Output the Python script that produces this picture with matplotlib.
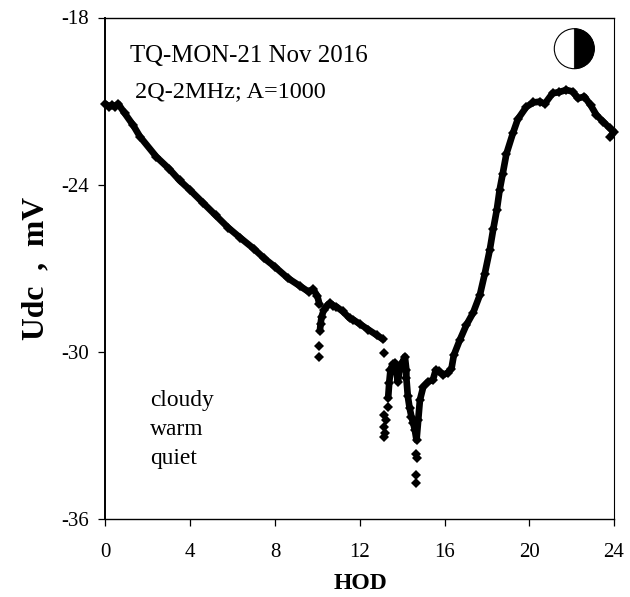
import matplotlib
matplotlib.use('Agg')
import numpy as np
import matplotlib.pyplot as plt
from matplotlib.patches import Circle, Wedge
from matplotlib.transforms import IdentityTransform

plt.rcParams['font.family'] = ['Liberation Serif', 'DejaVu Serif']
plt.rcParams['axes.unicode_minus'] = False

# connected runs of the record, nan = gap in the trace
hod = [0.0, 0.15, 0.3, 0.45, 0.6, 0.9, 1.3, 1.63, 2.4, 3.0, 3.5, 4.0, 4.6, 5.2, 5.8, 6.35, 7.0, 7.5, 8.0,
       8.6, 9.2, 9.6, 9.8, 10.0, 10.1, np.nan,
       10.12, 10.15, 10.2, 10.3, 10.45, 10.6, 10.75, 10.9, 11.2, 11.53, 11.7, 12.0, 12.4, 12.8, 13.1, np.nan,
       13.34, 13.39, 13.45, 13.55, 13.66, 13.72, 13.8, 13.89, 14.0, 14.13, 14.2, 14.2, 14.27, 14.35, 14.44,
       14.52, 14.6, 14.68, 14.76, 14.84, 15.0, 15.23, 15.45, 15.59, 15.75, 15.93, 16.15, 16.33, 16.44,
       16.72, 17.03, 17.35, 17.67, 17.9, 18.14, 18.3, 18.47, 18.6, 18.75, 18.92, 19.23, 19.46, 19.87,
       20.2, 20.5, 20.73, 21.1, 21.4, 21.75, 22.05, 22.3, 22.6, 22.9, 23.17, 23.5, 23.8, 24.0, 23.83]
udc = [-21.1, -21.2, -21.15, -21.2, -21.1, -21.43, -21.86, -22.28, -23.0, -23.43, -23.85, -24.2, -24.65, -25.1, -25.55, -25.9, -26.3, -26.65, -26.95,
       -27.35, -27.65, -27.85, -27.75, -28.0, -28.3, np.nan,
       -29.25, -29.0, -28.74, -28.5, -28.35, -28.25, -28.35, -28.38, -28.55, -28.8, -28.85, -29.0, -29.2, -29.4, -29.55, np.nan,
       -31.66, -31.12, -30.65, -30.45, -30.4, -30.7, -31.07, -30.65, -30.4, -30.17, -30.65, -30.94, -31.6, -32.0, -32.33,
       -32.55, -32.8, -33.17, -32.45, -31.73, -31.25, -31.07, -31.01, -30.65, -30.7, -30.83, -30.75, -30.6, -30.12,
       -29.58, -29.04, -28.6, -27.96, -27.2, -26.33, -25.6, -24.9, -24.2, -23.6, -22.9, -22.15, -21.65, -21.2,
       -21.05, -21.02, -21.1, -20.72, -20.68, -20.6, -20.66, -20.9, -20.84, -21.15, -21.5, -21.75, -21.97, -22.1, -22.28]
# stray samples below the trace
hod_iso = [10.1, 10.1, 13.14, 13.15, 13.26, 13.15, 13.2, 13.15, 13.34, 14.65, 14.68, 14.65, 14.65]
udc_iso = [-29.8, -30.17, -30.05, -32.27, -32.45, -32.69, -32.9, -33.06, -31.97, -33.65, -33.8, -34.43, -34.72]

x_ticks = [0, 4, 8, 12, 16, 20, 24]
y_ticks = [-36, -30, -24, -18]

fig = plt.figure(figsize=(6.3, 5.97), dpi=100)
ax = fig.add_axes([105.5/630, 1 - 519/597, 508.5/630, 501.5/597])

ax.plot(hod, udc, color='black', lw=4.8, marker='D', ms=4.6, mew=0, clip_on=False, solid_capstyle='round')
ax.plot(hod_iso, udc_iso, ls='none', color='black', marker='D', ms=4.6, mew=0, clip_on=False)

ax.set_xlim(0, 24)
ax.set_ylim(-36, -18)
ax.set_xticks(x_ticks)
ax.set_yticks(y_ticks)
ax.tick_params(direction='out', length=5, width=0.9, labelsize=15, color='black')
ax.tick_params(axis='x', pad=12)
ax.tick_params(axis='y', pad=7)
ax.spines['left'].set_linewidth(1.4)
ax.spines['bottom'].set_linewidth(1.0)
ax.spines['top'].set_linewidth(1.0)
ax.spines['right'].set_linewidth(0.8)

ax.set_xlabel('HOD', fontsize=17, fontweight='bold', va='baseline')
ax.xaxis.set_label_coords(0.5005, -70/501.5)
ax.set_ylabel('Udc  ,  mV', fontsize=22.8, fontweight='bold', va='baseline')
ax.yaxis.set_label_coords(-62.5/508.5, 250.5/501.5)

fig.text(130/630, 1 - 62/597, 'TQ-MON-21 Nov 2016', fontsize=17.9, va='baseline')
fig.text(135/630, 1 - 96.7/597, '2Q-2MHz; A=1000', fontsize=17.5, va='baseline')
fig.text(150/630, 1 - 406/597, 'cloudy', fontsize=16.9, va='baseline')
fig.text(150/630, 1 - 435/597, 'warm', fontsize=16.9, va='baseline')
fig.text(150/630, 1 - 464/597, 'quiet', fontsize=16.9, va='baseline')

# moon phase symbol, in pixels
moon_xy = (574.3, 597 - 48.7)
fig.add_artist(Circle(moon_xy, 20, transform=IdentityTransform(), fc='white', ec='black', lw=0.8))
fig.add_artist(Wedge(moon_xy, 20, -90, 90, transform=IdentityTransform(), fc='black', ec='black', lw=0.5))

fig.savefig('out.png', dpi=100)
